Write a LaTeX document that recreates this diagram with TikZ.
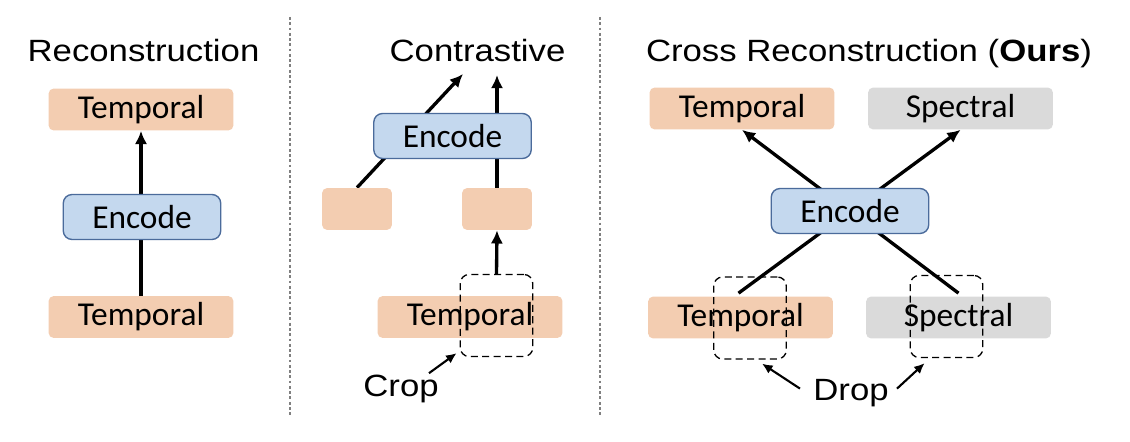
\documentclass[tikz,border=0pt]{standalone}
\usepackage{fontspec}
\setmainfont{Liberation Sans}
\newfontfamily\titlefont[FakeStretch=1.13]{Liberation Sans}
\newfontfamily\boxfont{Carlito}
\usepackage{tikz}
\usetikzlibrary{calc}
\usetikzlibrary{positioning, arrows.meta, backgrounds}
\usepackage{color}
\definecolor{peach}{HTML}{F3CDB1}
\definecolor{specgray}{HTML}{DADADA}
\definecolor{encblue}{HTML}{C4D8EE}
\definecolor{encborder}{HTML}{4B6B9B}

\begin{document}
\begin{tikzpicture}[x=0.02cm, y=-0.02cm]
          \useasboundingbox (0,0) rectangle (1130,442);
               % Setup the styles for the boxes and arrows
          \tikzset{box style/.style={rectangle,
                                     rounded corners=3pt,
                                     inner sep=0pt,
                                     minimum width=3.7cm,
                                     minimum height=0.84cm,
                                     font=\boxfont\fontsize{19}{20}\selectfont},
                   temp style/.style={box style, fill=peach},
                   spec style/.style={box style, fill=specgray},
                   patch style/.style={box style, fill=peach, minimum width=1.4cm},
                   enc style/.style={box style,
                                     fill=encblue,
                                     draw=encborder,
                                     line width=0.8pt,
                                     rounded corners=5pt,
                                     minimum width=3.15cm,
                                     minimum height=0.9cm},
                   mask style/.style={rectangle, draw=black,
                                      dash pattern=on 4pt off 2.5pt,
                                      line width=0.75pt,
                                      rounded corners=5pt,
                                      minimum width=1.45cm,
                                      minimum height=1.64cm},
                   title style/.style={font=\titlefont\fontsize{17.5}{20}\selectfont,
                                       inner sep=0pt, anchor=base},
                   link style/.style={line width=1.9pt, -{Latex[length=7.5pt,width=7pt]}},
                   pointer style/.style={line width=1.2pt, -{Latex[length=6pt,width=5.5pt]}},
                   divider style/.style={draw=gray, line width=1.1pt,
                                         dash pattern=on 1.6pt off 1.4pt}}
          % Reconstruction
          \node[title style] (recTitle) at (143.5,62) {Reconstruction};
          \node[temp style] (recOut) at (141,109.5) {Temporal};
          \node[enc style] (recEnc) at (142,217) {Encode};
          \node[temp style] (recIn) at (141,317) {Temporal};
          % Contrastive
          \node[title style] (conTitle) at (477.5,62) {Contrastive};
          \node[enc style] (conEnc) at (452.5,136) {Encode};
          \node[patch style] (conPatchL) at (357,209) {};
          \node[patch style] (conPatchR) at (497,209) {};
          \node[temp style] (conIn) at (470,317) {Temporal};
          \node[mask style] (conCrop) at (496.5,315.5) {};
          \node[title style] (cropLabel) at (401,397) {Crop};
          \coordinate (conHeadL) at (463,74);
          \coordinate (conHeadR) at (497,75);
          % Cross reconstruction
          \node[title style] (crossTitle) at (869,62) {Cross Reconstruction (\textbf{Ours})};
          \node[temp style] (crossTempOut) at (742,108.5) {Temporal};
          \node[spec style] (crossSpecOut) at (960.5,108.5) {Spectral};
          \node[enc style] (crossEnc) at (850,211) {Encode};
          \node[temp style] (crossTempIn) at (740.5,317.5) {Temporal};
          \node[spec style] (crossSpecIn) at (958.5,317.5) {Spectral};
          \node[mask style] (dropL) at (750,318) {};
          \node[mask style] (dropR) at (946.5,316.5) {};
          \node[title style] (dropLabel) at (851,400) {Drop};
          % Dividers
          \draw[divider style] (290,17) -- (290,415);
          \draw[divider style] (600,17) -- (600,415);
          % Connect the boxes with arrows
          \begin{scope}[on background layer]
             \draw[link style] (recIn.north) -- (recOut.south);
             \draw[link style] (conPatchL.north) -- (conHeadL);
             \draw[link style] (conPatchR.north) -- (conHeadR);
             \draw[link style] (conCrop.north) -- (conPatchR.south);
             \draw[link style] ($(crossSpecIn.north)+(0,-3)$) -- (crossTempOut.south);
             \draw[link style] ($(crossTempIn.north)+(-2,-3)$) -- (crossSpecOut.south);
          \end{scope}
          \draw[pointer style] ($(cropLabel.north east)+(-10,-2)$) -- ($(conCrop.south west)+(-3,-4)$);
          \draw[pointer style] ($(dropLabel.west)+(-13,-4)$) -- ($(dropL.south)+(12,4)$);
          \draw[pointer style] ($(dropLabel.east)+(8,-4)$) -- ($(dropR.south west)+(15,5)$);
      \end{tikzpicture}
\end{document}
